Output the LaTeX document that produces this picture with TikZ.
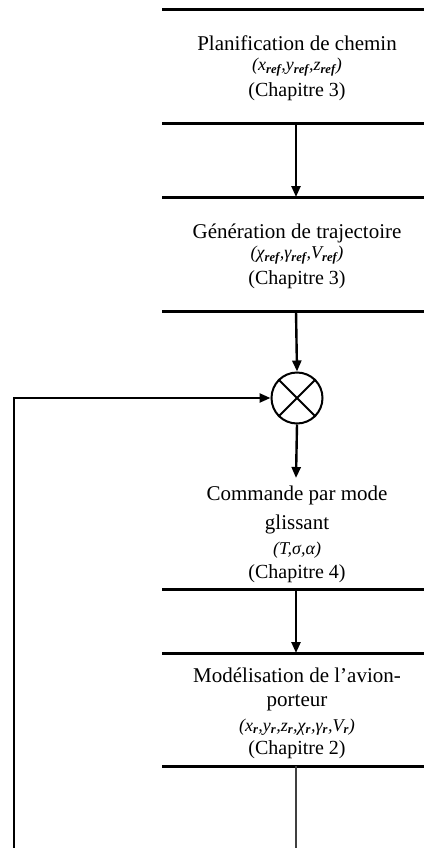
\documentclass[tikz,border=0pt]{standalone}
\usepackage{fontspec}
\setmainfont{Liberation Serif}
\usetikzlibrary{arrows.meta}
\begin{document}
\begin{tikzpicture}[x=1pt,y=-1pt,
  edge/.style={line width=3pt},
  arr/.style={line width=2.4pt,-{Triangle[length=11pt,width=9pt]}},
  plain/.style={line width=2.4pt},
  txt/.style={inner sep=0pt,font=\fontsize{21}{23}\selectfont},
  chp/.style={inner sep=0pt,font=\fontsize{20}{22}\selectfont},
  frm/.style={inner sep=0pt,font=\fontsize{18}{20}\selectfont\itshape}]
\useasboundingbox (0,0) rectangle (424,848);
% box borders
\draw[edge] (162,10) -- (424,10);
\draw[edge] (162,124) -- (424,124);
\draw[edge] (162,197) -- (424,197);
\draw[edge] (162,311) -- (424,311);
\draw[edge] (162,589) -- (424,589);
\draw[edge] (162,653) -- (424,653);
\draw[edge] (162,766) -- (424,766);
% texts
\node[txt] (t1a) at (297,43) {Planification de chemin};
\node[frm] (t1b) at (297,67) {(\textit{x}\textsubscript{\textbf{ref}},\textit{y}\textsubscript{\textbf{ref}},\textit{z}\textsubscript{\textbf{ref}})};
\node[chp] (t1c) at (297,92) {(Chapitre 3)};
\node[txt] (t2a) at (297,233) {Génération de trajectoire};
\node[frm] (t2b) at (297,255) {(χ\textsubscript{\textbf{ref}},γ\textsubscript{\textbf{ref}},\textit{V}\textsubscript{\textbf{ref}})};
\node[chp] (t2c) at (297,280) {(Chapitre 3)};
\node[txt] (t3a) at (297,495) {Commande par mode};
\node[txt] (t3b) at (297,524) {glissant};
\node[frm] (t3c) at (297,550) {(\textit{T},σ,α)};
\node[chp] (t3d) at (297,574) {(Chapitre 4)};
\node[txt] (t4a) at (297,675) {Modélisation de l'avion-};
\node[txt] (t4b) at (297,703) {porteur};
\node[frm] (t4c) at (297,727) {(\textit{x}\textsubscript{\textbf{r}},\textit{y}\textsubscript{\textbf{r}},\textit{z}\textsubscript{\textbf{r}},χ\textsubscript{\textbf{r}},γ\textsubscript{\textbf{r}},\textit{V}\textsubscript{\textbf{r}})};
\node[chp] (t4d) at (297,750) {(Chapitre 2)};
% summing junction
\node[circle,draw,line width=2pt,minimum size=51pt,inner sep=0pt] (sum) at (297,398) {};
\draw[line width=2pt] (sum.north west) -- (sum.south east);
\draw[line width=2pt] (sum.north east) -- (sum.south west);
% connector points
\coordinate (b1b) at (296,124);
\coordinate (b2t) at (296,197);
\coordinate (b2b) at (296,311);
\coordinate (c3t) at (296,478);
\coordinate (b3b) at (296,589);
\coordinate (b4t) at (296,653);
\coordinate (b4b) at (296,766);
\coordinate (out) at (296,848);
\coordinate (fb) at (14,848);
% connectors
\draw[arr] (b1b) -- (b2t);
\draw[arr] (b2b) -- (sum.north);
\draw[arr] (sum.south) -- (c3t);
\draw[arr] (b3b) -- (b4t);
\draw[plain,draw=black!75] (b4b) -- (out);
\draw[arr] (fb) |- (sum.west);
\end{tikzpicture}
\end{document}
